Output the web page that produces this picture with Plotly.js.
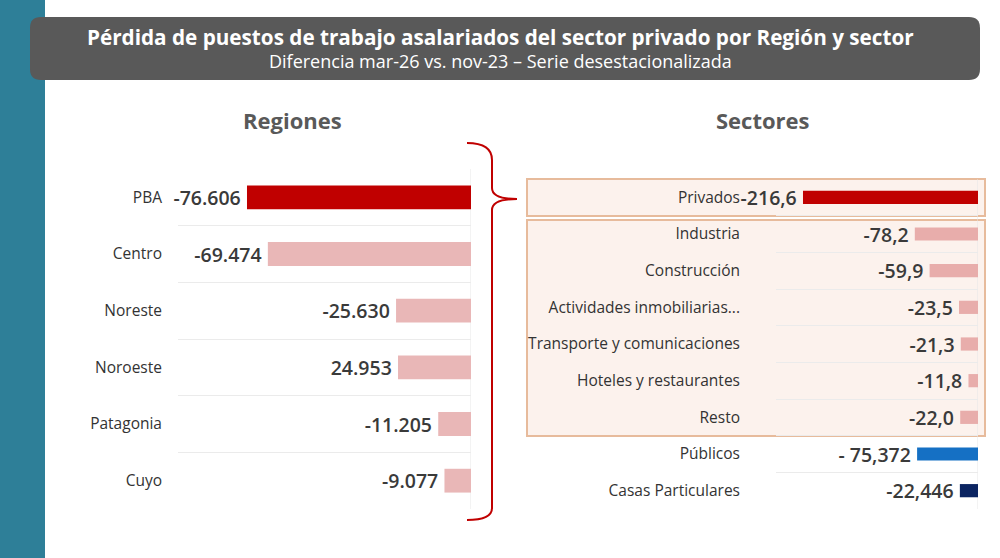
<!DOCTYPE html>
<html>
<head>
<meta charset="utf-8">
<script src="https://cdn.plot.ly/plotly-3.0.1.min.js"></script>
<style>html,body{margin:0;padding:0;background:#fff;}#chart{width:1000px;height:558px;}</style>
</head>
<body>
<div id="chart"></div>
<script>
// ---- Data ----
const regiones = ['PBA', 'Centro', 'Noreste', 'Noroeste', 'Patagonia', 'Cuyo'];
const regionValues = [-76606, -69474, -25630, 24953, -11205, -9077];
const regionLabels = ['-76.606', '-69.474', '-25.630', '24.953', '-11.205', '-9.077'];
const regionColors = ['#c00000', '#e9b7b7', '#e9b7b7', '#e9b7b7', '#e9b7b7', '#e9b7b7'];

const sectores = ['Privados', 'Industria', 'Construcción', 'Actividades inmobiliarias...',
  'Transporte y comunicaciones', 'Hoteles y restaurantes', 'Resto', 'Públicos', 'Casas Particulares'];
const sectorValues = [-216.6, -78.2, -59.9, -23.5, -21.3, -11.8, -22.0, -75.372, -22.446];
const sectorLabels = ['-216,6', '-78,2', '-59,9', '-23,5', '-21,3', '-11,8', '-22,0', '- 75,372', '-22,446'];
const sectorColors = ['#c00000', '#e8adab', '#e8adab', '#e8adab', '#e8adab', '#e8adab', '#e8adab', '#1570c4', '#0b2461'];

// ---- Helpers for paper positions ----
const W = 1000, H = 558;
const px = x => x / W;
const py = y => 1 - y / H;
const FONT = '"Open Sans", "Noto Sans", sans-serif';
const GAP = '\u2009';

const valueFont = {family: FONT, size: 19.5, color: '#3a3a3a', weight: 600};

const traces = [
  {
    type: 'bar', orientation: 'h',
    y: regiones, x: regionValues.map(v => -Math.abs(v)),
    text: regionLabels.map(t => t + GAP), textposition: 'outside', cliponaxis: false, constraintext: 'none',
    textfont: valueFont,
    marker: {color: regionColors}, width: 0.42,
    xaxis: 'x', yaxis: 'y', hoverinfo: 'none'
  },
  {
    type: 'bar', orientation: 'h',
    y: sectores, x: sectorValues,
    text: sectorLabels.map(t => t + GAP), textposition: 'outside', cliponaxis: false, constraintext: 'none',
    textfont: valueFont,
    marker: {color: sectorColors}, width: 0.36,
    xaxis: 'x2', yaxis: 'y2', hoverinfo: 'none'
  }
];

function roundRect(x0, y0, x1, y1, r) {
  const rx = r / W, ry = r / H;
  const X0 = px(x0), X1 = px(x1), Y0 = py(y0), Y1 = py(y1);
  return `M ${X0 + rx} ${Y0} L ${X1 - rx} ${Y0} Q ${X1} ${Y0} ${X1} ${Y0 - ry} ` +
    `L ${X1} ${Y1 + ry} Q ${X1} ${Y1} ${X1 - rx} ${Y1} L ${X0 + rx} ${Y1} Q ${X0} ${Y1} ${X0} ${Y1 + ry} ` +
    `L ${X0} ${Y0 - ry} Q ${X0} ${Y0} ${X0 + rx} ${Y0} Z`;
}

function pathPx(cmds) {
  return cmds.map(c => {
    const out = [c[0]];
    for (let i = 1; i < c.length; i += 2) out.push(px(c[i]), py(c[i + 1]));
    return out.join(' ');
  }).join(' ');
}

const bracePath = pathPx([
  ['M', 467, 143],
  ['Q', 492, 143, 492, 160],
  ['L', 492, 188],
  ['Q', 492, 199, 517, 199],
  ['Q', 492, 199, 492, 210],
  ['L', 492, 508],
  ['Q', 492, 520, 467, 520]
]);

const shapes = [
  {type: 'rect', xref: 'paper', yref: 'paper', x0: 0, x1: px(45), y0: 0, y1: 1,
   fillcolor: '#2e7f98', line: {width: 0}, layer: 'below'},
  {type: 'path', xref: 'paper', yref: 'paper', path: roundRect(30, 17, 980, 80, 11),
   fillcolor: '#595959', line: {width: 0}, layer: 'below'},
  {type: 'rect', xref: 'paper', yref: 'paper', x0: px(527), x1: px(985), y0: py(216), y1: py(179),
   fillcolor: '#fcf2ed', line: {color: '#e7bb9c', width: 2}, layer: 'below'},
  {type: 'rect', xref: 'paper', yref: 'paper', x0: px(527), x1: px(985), y0: py(436), y1: py(220),
   fillcolor: '#fcf2ed', line: {color: '#e7bb9c', width: 2}, layer: 'below'},
  {type: 'path', xref: 'paper', yref: 'paper', path: bracePath,
   line: {color: '#c00000', width: 2}, layer: 'above'},
  {type: 'line', xref: 'x', yref: 'y domain', x0: 0, x1: 0, y0: 0, y1: 1,
   line: {color: '#e6e6e6', width: 1}, layer: 'below'},
  {type: 'line', xref: 'x2', yref: 'y2 domain', x0: 0, x1: 0, y0: 0, y1: 1,
   line: {color: '#e6e6e6', width: 1}, layer: 'below'}
];

const annotations = [
  {text: 'Pérdida de puestos de trabajo asalariados del sector privado por Región y sector',
   xref: 'paper', yref: 'paper', x: px(500), y: py(37), xanchor: 'center', yanchor: 'middle',
   showarrow: false, font: {family: FONT, size: 20.7, color: '#ffffff', weight: 700}},
  {text: 'Diferencia mar-26 vs. nov-23 – Serie desestacionalizada',
   xref: 'paper', yref: 'paper', x: px(500), y: py(61), xanchor: 'center', yanchor: 'middle',
   showarrow: false, font: {family: FONT, size: 18, color: '#ffffff', weight: 400}},
  {text: 'Regiones', xref: 'paper', yref: 'paper', x: px(292), y: py(120), xanchor: 'center', yanchor: 'middle',
   showarrow: false, font: {family: FONT, size: 22, color: '#595959', weight: 700}},
  {text: 'Sectores', xref: 'paper', yref: 'paper', x: px(763), y: py(120), xanchor: 'center', yanchor: 'middle',
   showarrow: false, font: {family: FONT, size: 22, color: '#595959', weight: 700}}
];

const layout = {
  width: W, height: H,
  margin: {l: 0, r: 0, t: 0, b: 0},
  paper_bgcolor: '#ffffff',
  plot_bgcolor: 'rgba(0,0,0,0)',
  showlegend: false,
  font: {family: FONT, color: '#333333'},
  xaxis: {domain: [px(178), px(471)], range: [-100200, 0], visible: false, fixedrange: true},
  yaxis: {domain: [py(509), py(169)], type: 'category', autorange: 'reversed',
          tickson: 'boundaries', showgrid: true, gridcolor: '#ebebeb', gridwidth: 1,
          ticks: '', ticklabelstandoff: 15, zeroline: false, showline: false,
          tickfont: {family: FONT, size: 15.5, color: '#333333'}, fixedrange: true},
  xaxis2: {domain: [px(776), px(978)], range: [-250, 0], visible: false, fixedrange: true, anchor: 'y2'},
  yaxis2: {domain: [py(509), py(179)], type: 'category', autorange: 'reversed', anchor: 'x2',
           tickson: 'boundaries', showgrid: true, gridcolor: '#ebebeb', gridwidth: 1,
           ticks: '', ticklabelstandoff: 35, zeroline: false, showline: false,
           tickfont: {family: FONT, size: 15.5, color: '#333333'}, fixedrange: true},
  shapes: shapes,
  annotations: annotations
};

Plotly.newPlot('chart', traces, layout, {displayModeBar: false, staticPlot: true});
</script>
</body>
</html>
